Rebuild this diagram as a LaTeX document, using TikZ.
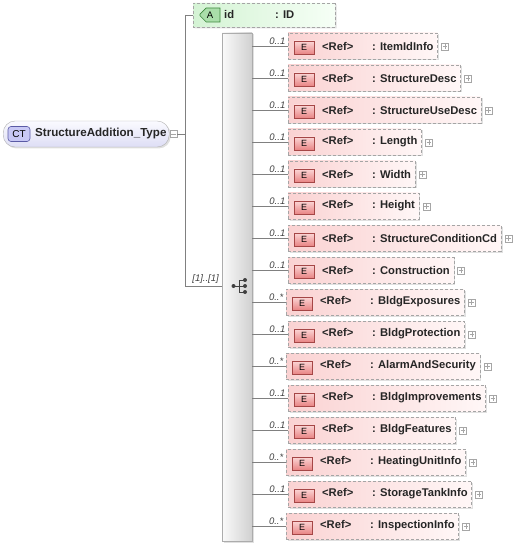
\documentclass[tikz,border=0pt]{standalone}
\usepackage{fontspec}
\setmainfont{Liberation Sans}
\usetikzlibrary{calc,shadows,shapes.misc}
\definecolor{conncol}{RGB}{128,128,128}
\definecolor{boxborder}{RGB}{165,165,165}
\definecolor{pinkL}{RGB}{250,210,210}
\definecolor{pinkR}{RGB}{255,247,247}
\definecolor{ebadgeT}{RGB}{252,214,214}
\definecolor{ebadgeB}{RGB}{232,132,132}
\definecolor{ebadgeD}{RGB}{165,70,70}
\definecolor{greenL}{RGB}{212,243,212}
\definecolor{greenR}{RGB}{246,255,246}
\definecolor{abadge}{RGB}{170,222,170}
\definecolor{abadgeD}{RGB}{60,135,60}
\definecolor{ctT}{RGB}{250,250,255}
\definecolor{ctB}{RGB}{222,222,245}
\definecolor{ctbadge}{RGB}{200,200,245}
\definecolor{ctbadgeD}{RGB}{90,90,165}
\definecolor{seqL}{RGB}{250,250,250}
\definecolor{seqR}{RGB}{208,208,208}
\tikzset{
  conn/.style={draw=conncol, line width=0.7pt},
  softshadow/.style={drop shadow={shadow xshift=1.5pt, shadow yshift=-1.5pt, fill=black!12, opacity=1}},
  elbox/.style={draw=boxborder, dash pattern=on 3pt off 2pt, left color=pinkL, right color=pinkR,
    minimum height=26pt, inner xsep=0pt, inner ysep=0pt, softshadow,
    font=\fontsize{11.2}{13}\selectfont\bfseries, text=black!85},
  ebadgestyle/.style={draw=ebadgeD, top color=ebadgeT, bottom color=ebadgeB, minimum width=20pt,
    minimum height=13pt, inner sep=0pt, font=\fontsize{9}{10}\selectfont, line width=0.6pt},
  expbox/.style={draw=gray!70, fill=white, minimum width=7pt, minimum height=7pt, inner sep=0pt, line width=0.5pt},
  multlabel/.style={font=\fontsize{9.5}{11}\selectfont\itshape, text=black!75, inner sep=0pt},
  attrbox/.style={chamfered rectangle, chamfered rectangle corners={north west,south west},
    chamfered rectangle xsep=6pt, draw=boxborder, dash pattern=on 3pt off 2pt,
    left color=greenL, right color=greenR, minimum width=142pt, minimum height=24pt, inner sep=0pt, softshadow},
  abadgestyle/.style={chamfered rectangle, chamfered rectangle corners={north west,south west},
    chamfered rectangle xsep=3pt, draw=abadgeD, fill=abadge, minimum width=20pt, minimum height=14pt,
    inner sep=0pt, font=\fontsize{9.5}{10}\selectfont, line width=0.6pt},
  ctboxstyle/.style={draw=gray!60, rounded corners=12pt, top color=ctT, bottom color=ctB,
    minimum width=166pt, minimum height=26pt, inner sep=0pt, softshadow},
  ctbadgestyle/.style={draw=ctbadgeD, fill=ctbadge, rounded corners=3pt, minimum width=22pt,
    minimum height=15pt, inner sep=0pt, font=\fontsize{10}{11}\selectfont, line width=0.6pt},
  seqbar/.style={draw=gray!65, left color=seqL, right color=seqR, minimum width=30pt,
    minimum height=508pt, inner sep=0pt, softshadow},
  boldtext/.style={font=\fontsize{11.2}{13}\selectfont\bfseries, text=black!85, inner sep=0pt}
}
\begin{document}
\begin{tikzpicture}[x=1pt,y=-1pt]
\useasboundingbox (0,0) rectangle (513,545);

% complex type
\node[ctboxstyle, anchor=west] (ct) at (3,134) {};
\node[ctbadgestyle] (ctb) at (19,134) {CT};
\node[boldtext, anchor=west, font=\fontsize{11.6}{13}\selectfont\bfseries] (ctt) at (35,134) {StructureAddition\_Type};
\node[expbox] (ctm) at (173.5,134) {};
\draw[gray!70, line width=0.5pt] ($(ctm.west)+(1.5,0)$) -- ($(ctm.east)+(-1.5,0)$);

% junctions
\coordinate (j) at (185,134);
\coordinate (ja) at (185,15);
\coordinate (js) at (185,286);
\draw[conn] (ctm.east) -- (j);
\draw[conn] (ja) -- (js);

% attribute
\node[attrbox] (attr) at (264,15) {};
\node[abadgestyle] (ab) at (210,15) {A};
\node[boldtext, anchor=west] (aid) at (224,15) {id};
\node[boldtext, anchor=west] (atype) at (275,15) {: ID};
\draw[conn] (ja) -- (attr.west);

% sequence bar
\node[seqbar] (seq) at (237,287) {};
\draw[conn] (js) -- (seq.west |- js);
\node[multlabel, anchor=south east] (seqm) at (219,284) {[1]..[1]};

% sequence icon
\coordinate (sc) at (239,286);
\fill[black!75] ($(sc)+(-5.5,0)$) circle (2pt);
\fill[black!75] ($(sc)+(6,-6)$) circle (2pt);
\fill[black!75] ($(sc)+(6,0)$) circle (2pt);
\fill[black!75] ($(sc)+(6,6)$) circle (2pt);
\draw[black!75, line width=0.7pt] ($(sc)+(-5.5,0)$) -- ($(sc)+(6,0)$)
  ($(sc)+(0,-6)$) -- ($(sc)+(0,6)$)
  ($(sc)+(0,-6)$) -- ($(sc)+(6,-6)$)
  ($(sc)+(0,6)$) -- ($(sc)+(6,6)$);

% elements
\foreach \i/\xl/\m/\n in {
  0/288/1/ItemIdInfo,
  1/288/1/StructureDesc,
  2/288/1/StructureUseDesc,
  3/288/1/Length,
  4/288/1/Width,
  5/288/1/Height,
  6/288/1/StructureConditionCd,
  7/288/1/Construction,
  8/286/*/BldgExposures,
  9/288/1/BldgProtection,
  10/286/*/AlarmAndSecurity,
  11/288/1/BldgImprovements,
  12/288/1/BldgFeatures,
  13/286/*/HeatingUnitInfo,
  14/288/1/StorageTankInfo,
  15/286/*/InspectionInfo}{
  \pgfmathsetmacro\yy{46+32*\i}
  \node[elbox, anchor=west] (e\i) at (\xl,\yy)
    {\hspace*{34pt}\makebox[50pt][l]{<Ref>}: \n\hspace*{4pt}};
  \node[ebadgestyle] (b\i) at ($(e\i.west)+(16,1.5)$) {E};
  \node[expbox, anchor=west] (x\i) at ($(e\i.east)+(3.5,0.5)$) {};
  \draw[gray!70, line width=0.5pt] ($(x\i.west)+(1.5,0)$) -- ($(x\i.east)+(-1.5,0)$)
    ($(x\i.north)+(0,1.5)$) -- ($(x\i.south)+(0,-1.5)$);
  \draw[conn] (seq.east |- e\i.west) -- (e\i.west);
  \node[multlabel, anchor=south east] (m\i) at ($(e\i.west)+(-2.5,-1.5)$) {0..\m};
}
\end{tikzpicture}
\end{document}
